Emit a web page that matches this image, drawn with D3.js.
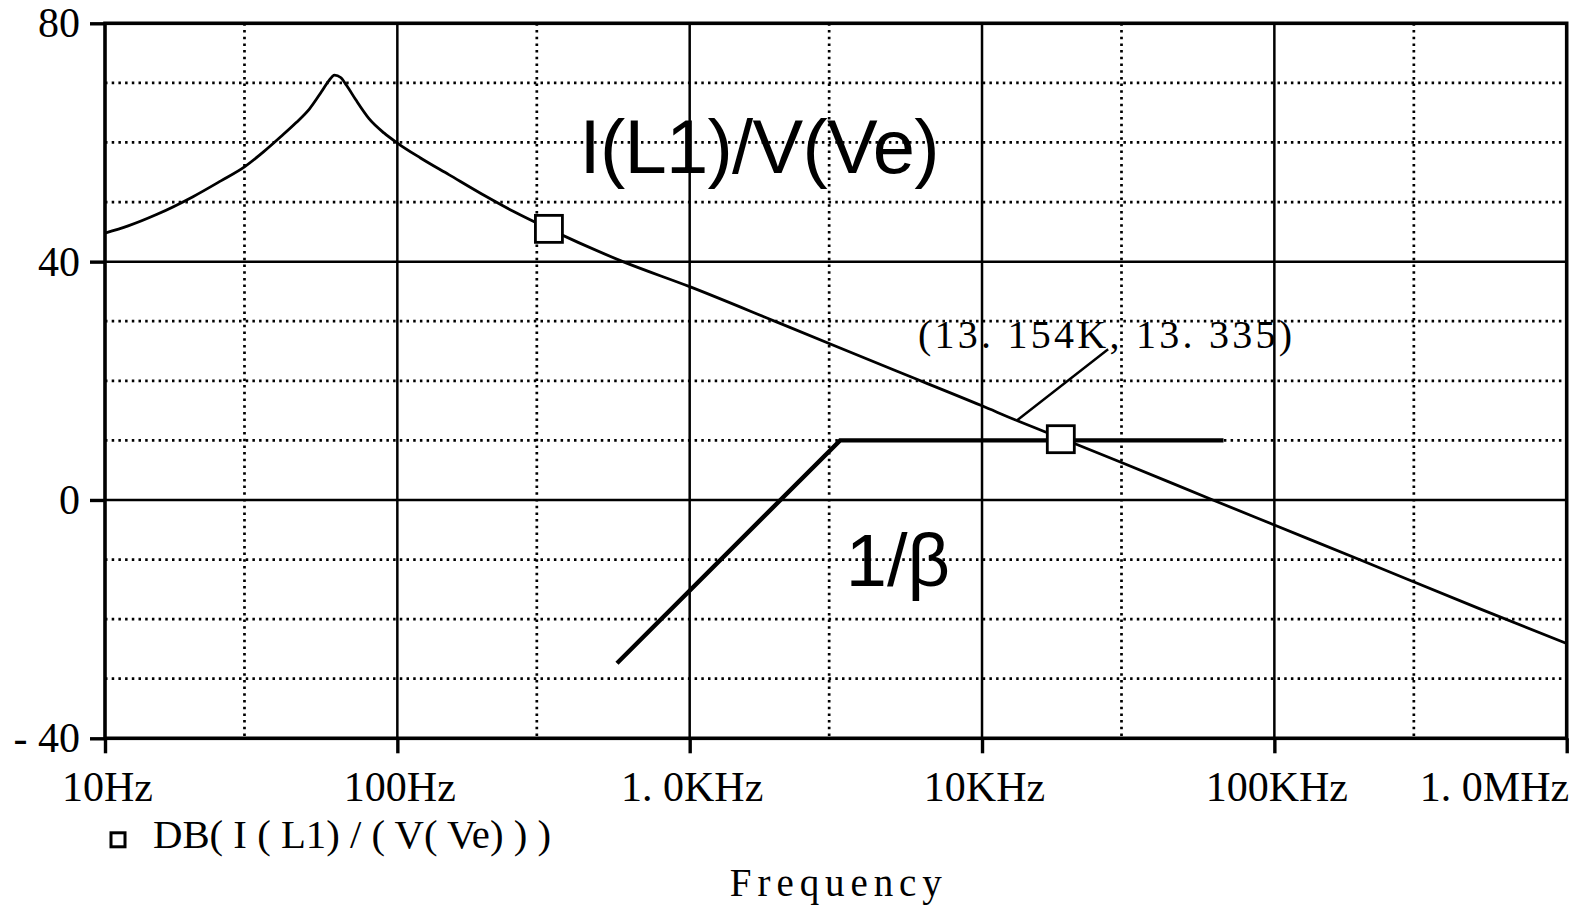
<!DOCTYPE html>
<html>
<head>
<meta charset="utf-8">
<script src="https://cdn.jsdelivr.net/npm/d3@7"></script>
<style>
  html, body { margin: 0; padding: 0; background: #fff; }
  svg { display: block; }
</style>
</head>
<body>
<svg id="chart" width="1582" height="911"></svg>
<script>
// ---- data ----
const freqHz = [10, 12, 15, 20, 25, 30, 35, 40, 45, 50, 55, 58, 61, 64, 67, 72, 80, 90, 100, 120, 150, 200, 250, 330, 591, 1000, 2000, 5000, 10000, 13154, 18600, 30000, 61600, 100000, 200000, 500000, 1000000];
const gainDb = [44.8, 46.0, 47.9, 50.9, 53.6, 55.9, 58.5, 61.0, 63.3, 65.6, 68.5, 70.2, 71.3, 70.9, 69.6, 67.2, 64.0, 61.6, 59.9, 57.4, 54.6, 51.0, 48.4, 45.5, 40.0, 35.8, 29.8, 21.8, 15.8, 13.335, 10.4, 6.3, 0.0, -4.2, -10.2, -18.2, -24.1];
const betaFreq = [564, 3270, 67000];
const betaDb = [-27.4, 10.0, 10.0];
const markerFreq = [330, 18600];
const markerDb = [45.5, 10.2];
const xTickVals = [10, 100, 1000, 10000, 100000, 1000000];
const xTickLabels = ["10Hz", "100Hz", "1. 0KHz", "10KHz", "100KHz", "1. 0MHz"];
const xMinorVals = [30, 300, 3000, 30000, 300000];
const yTickVals = [80, 40, 0, -40];
const yTickLabels = ["80", "40", "0", "- 40"];
const yMinorVals = [70, 60, 50, 30, 20, 10, -10, -20, -30];
const cursorPoint = [13154, 13.335];
const cursorLabel = "(13. 154K, 13. 335)";
const cursorLabelAt = [6040, 25.5];
const cursorLineEnd = [27000, 25.3];
const curveLabel = "I(L1)/V(Ve)";
const curveLabelAt = [420, 54.8];
const betaLabel = "1/β";
const betaLabelAt = [3420, -14.4];
const legendLabel = "DB( I ( L1) / ( V( Ve) ) )";
const xTitle = "Frequency";

// ---- layout ----
const pL = 105, pR = 1566.7, pT = 23.3, pB = 738.3;
const svg = d3.select("#chart");
const x = d3.scaleLog().domain([10, 1e6]).range([pL, pR]);
const y = d3.scaleLinear().domain([-40, 80]).range([pB, pT]);
const serif = "'Liberation Serif', 'Times New Roman', serif";
const sans = "'Liberation Sans', Arial, sans-serif";

// minor dotted grid
const g = svg.append("g");
g.selectAll("line.vmin").data(xMinorVals).join("line")
  .attr("x1", d => x(d)).attr("x2", d => x(d)).attr("y1", pT).attr("y2", pB)
  .attr("stroke", "#000").attr("stroke-width", 2.7).attr("stroke-dasharray", "2.5 4.2");
g.selectAll("line.hmin").data(yMinorVals).join("line")
  .attr("x1", pL).attr("x2", pR).attr("y1", d => y(d)).attr("y2", d => y(d))
  .attr("stroke", "#000").attr("stroke-width", 2.7).attr("stroke-dasharray", "2.5 4.2");

// major solid grid
g.selectAll("line.vmaj").data(xTickVals.slice(1, -1)).join("line")
  .attr("x1", d => x(d)).attr("x2", d => x(d)).attr("y1", pT).attr("y2", pB)
  .attr("stroke", "#000").attr("stroke-width", 2.5);
g.selectAll("line.hmaj").data(yTickVals.slice(1, -1)).join("line")
  .attr("x1", pL).attr("x2", pR).attr("y1", d => y(d)).attr("y2", d => y(d))
  .attr("stroke", "#000").attr("stroke-width", 2.5);

// axes
const xAxis = d3.axisBottom(x).tickValues(xTickVals)
  .tickFormat((d, i) => xTickLabels[i]).tickSize(15).tickPadding(18);
const xg = svg.append("g").attr("transform", `translate(0,${pB})`).call(xAxis);
xg.select(".domain").remove();
xg.selectAll(".tick line").attr("stroke", "#000").attr("stroke-width", 3.4);
xg.selectAll(".tick text").attr("font-family", serif).attr("font-size", 42).attr("fill", "#000")
  .attr("text-anchor", (d, i) => i === xTickVals.length - 1 ? "end" : "middle")
  .attr("dx", 2);

const yAxis = d3.axisLeft(y).tickValues(yTickVals)
  .tickFormat((d, i) => yTickLabels[i]).tickSize(15).tickPadding(10);
const yg = svg.append("g").attr("transform", `translate(${pL},0)`).call(yAxis);
yg.select(".domain").remove();
yg.selectAll(".tick line").attr("stroke", "#000").attr("stroke-width", 3.4);
yg.selectAll(".tick text").attr("font-family", serif).attr("font-size", 42).attr("fill", "#000");

// plot box
svg.append("rect").attr("x", pL).attr("y", pT).attr("width", pR - pL).attr("height", pB - pT)
  .attr("fill", "none").attr("stroke", "#000").attr("stroke-width", 3.6);

// curve
const pts = freqHz.map((f, i) => [f, gainDb[i]]);
const line = d3.line().x(d => x(d[0])).y(d => y(d[1])).curve(d3.curveMonotoneX);
svg.append("path").datum(pts).attr("d", line)
  .attr("fill", "none").attr("stroke", "#000").attr("stroke-width", 2.8);

// 1/beta
const bpts = betaFreq.map((f, i) => [f, betaDb[i]]);
svg.append("path").datum(bpts).attr("d", d3.line().x(d => x(d[0])).y(d => y(d[1])))
  .attr("fill", "none").attr("stroke", "#000").attr("stroke-width", 4.4);

// markers
svg.selectAll("rect.mk").data(markerFreq).join("rect")
  .attr("x", d => x(d) - 13.5).attr("y", (d, i) => y(markerDb[i]) - 13.5)
  .attr("width", 27).attr("height", 27)
  .attr("fill", "#fff").attr("stroke", "#000").attr("stroke-width", 2.8);

// cursor annotation
svg.append("line")
  .attr("x1", x(cursorPoint[0])).attr("y1", y(cursorPoint[1]))
  .attr("x2", x(cursorLineEnd[0])).attr("y2", y(cursorLineEnd[1]))
  .attr("stroke", "#000").attr("stroke-width", 2.4);
svg.append("text").attr("x", x(cursorLabelAt[0])).attr("y", y(cursorLabelAt[1]))
  .attr("font-family", serif).attr("font-size", 40).attr("fill", "#000")
  .attr("textLength", 374).attr("lengthAdjust", "spacing")
  .text(cursorLabel);

// big labels
svg.append("text").attr("x", x(curveLabelAt[0])).attr("y", y(curveLabelAt[1]))
  .attr("font-family", sans).attr("font-size", 76).attr("fill", "#000")
  .attr("textLength", 360).attr("lengthAdjust", "spacing")
  .text(curveLabel);
svg.append("text").attr("x", x(betaLabelAt[0])).attr("y", y(betaLabelAt[1]))
  .attr("font-family", sans).attr("font-size", 74).attr("fill", "#000")
  .text(betaLabel);

// legend
svg.append("rect").attr("x", pL + 6).attr("y", pB + 94.5).attr("width", 14).attr("height", 14)
  .attr("fill", "#fff").attr("stroke", "#000").attr("stroke-width", 3);
svg.append("text").attr("x", pL + 48).attr("y", pB + 110)
  .attr("font-family", serif).attr("font-size", 40).attr("fill", "#000")
  .attr("textLength", 398).attr("lengthAdjust", "spacingAndGlyphs")
  .text(legendLabel);

// x title
svg.append("text").attr("x", (pL + pR) / 2).attr("y", pB + 158)
  .attr("text-anchor", "middle")
  .attr("font-family", serif).attr("font-size", 39).attr("fill", "#000")
  .attr("textLength", 212).attr("lengthAdjust", "spacing")
  .text(xTitle);
</script>
</body>
</html>
